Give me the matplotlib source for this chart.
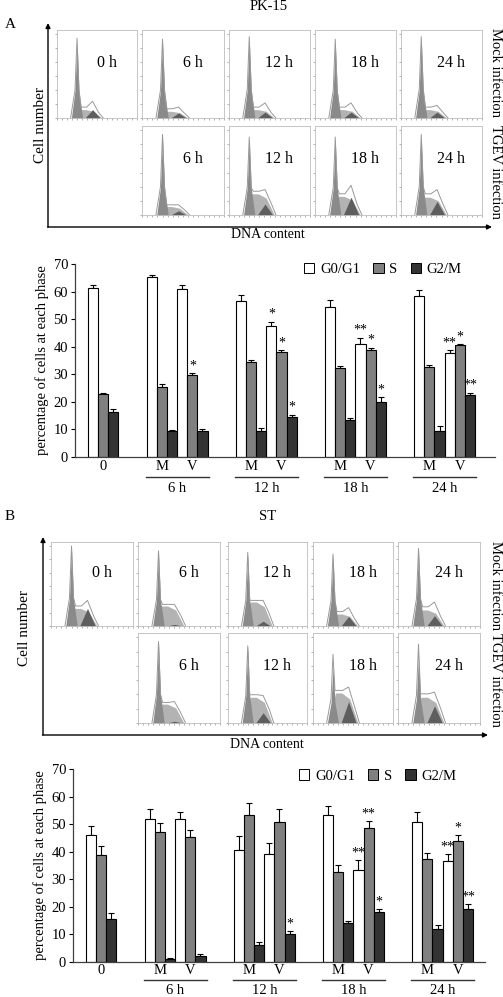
import numpy as np
import matplotlib
matplotlib.use("Agg")
import matplotlib.pyplot as plt
from matplotlib.patches import Patch

plt.rcParams['font.family'] = ['Liberation Serif', 'DejaVu Serif']

W, H = 503, 997

# ---------------- bar chart data ----------------
# order: 0, 6h M, 6h V, 12h M, 12h V, 18h M, 18h V, 24h M, 24h V
group_labels = ['0', '6 h', '12 h', '18 h', '24 h']
phase_labels = ['G0/G1', 'S', 'G2/M']

pk_g1 = [61.3, 65.2, 61.0, 56.5, 47.5, 54.2, 41.0, 58.4, 37.5]
pk_g1_err = [1.2, 0.9, 1.2, 2.2, 1.6, 2.9, 2.2, 2.2, 1.2]
pk_s = [22.6, 25.5, 29.7, 34.3, 38.2, 32.4, 38.7, 32.7, 40.4]
pk_s_err = [0.7, 1.0, 0.6, 0.7, 0.5, 0.5, 0.9, 0.5, 0.5]
pk_g2 = [16.2, 9.5, 9.3, 9.5, 14.6, 13.2, 20.0, 9.3, 22.3]
pk_g2_err = [1.0, 0.3, 0.6, 1.0, 0.7, 0.7, 1.7, 1.7, 0.9]
pk_g1_sig = ['', '', '', '', '*', '', '**', '', '**']
pk_s_sig = ['', '', '*', '', '*', '', '*', '', '*']
pk_g2_sig = ['', '', '', '', '*', '', '*', '', '**']

st_g1 = [46.0, 52.0, 52.0, 40.5, 39.2, 53.2, 33.5, 51.0, 36.7]
st_g1_err = [3.2, 3.5, 2.6, 5.4, 4.1, 3.5, 3.5, 3.6, 2.5]
st_s = [38.8, 47.2, 45.5, 53.2, 51.0, 32.5, 48.5, 37.2, 43.8]
st_s_err = [3.2, 3.1, 2.3, 4.5, 4.5, 2.6, 2.6, 2.3, 2.3]
st_g2 = [15.5, 1.0, 2.1, 6.2, 10.0, 14.2, 18.0, 12.0, 19.3]
st_g2_err = [2.2, 0.3, 0.7, 0.8, 1.0, 0.6, 1.0, 1.2, 1.6]
st_g1_sig = ['', '', '', '', '', '', '**', '', '**']
st_s_sig = ['', '', '', '', '', '', '**', '', '*']
st_g2_sig = ['', '', '', '', '*', '', '*', '', '**']

# ---------------- flow histogram data (fraction of panel height) ----------------
hist_labels = ['0 h', '6 h', '12 h', '18 h', '24 h']

pk_mock_g1 = [0.93, 0.92, 0.95, 0.92, 0.95]
pk_mock_s = [0.10, 0.08, 0.10, 0.10, 0.10]
pk_mock_g2 = [0.10, 0.06, 0.07, 0.07, 0.07]
pk_mock_s_out = [0.13, 0.11, 0.13, 0.13, 0.13]
pk_mock_g2_out = [0.20, 0.13, 0.18, 0.18, 0.15]

pk_tgev_g1 = [0.93, 0.90, 0.90, 0.93]
pk_tgev_s = [0.10, 0.25, 0.22, 0.21]
pk_tgev_g2 = [0.05, 0.13, 0.21, 0.16]
pk_tgev_s_out = [0.12, 0.28, 0.25, 0.25]
pk_tgev_g2_out = [0.12, 0.30, 0.35, 0.30]

st_mock_g1 = [0.98, 0.92, 0.90, 0.88, 0.95]
st_mock_s = [0.22, 0.25, 0.30, 0.15, 0.20]
st_mock_g2 = [0.22, 0.02, 0.06, 0.12, 0.13]
st_mock_s_out = [0.25, 0.27, 0.32, 0.18, 0.24]
st_mock_g2_out = [0.32, 0.27, 0.32, 0.23, 0.30]

st_tgev_g1 = [0.95, 0.90, 0.66, 0.80]
st_tgev_g1_out = [0.95, 0.90, 0.80, 0.92]
st_tgev_s = [0.22, 0.30, 0.35, 0.30]
st_tgev_g2 = [0.02, 0.12, 0.25, 0.20]
st_tgev_s_out = [0.24, 0.33, 0.38, 0.34]
st_tgev_g2_out = [0.25, 0.32, 0.42, 0.36]

# component shapes along the DNA axis (fraction of panel width)
G1_X = [0.18, 0.225, 0.25, 0.275, 0.32]
G1_K = [0, 0.35, 1, 0.35, 0]
S_X = [0.20, 0.28, 0.36, 0.46, 0.56]
S_K = [0, 1, 1, 0.8, 0]
G2_X = [0.35, 0.445, 0.54]
G2_K = [0, 1, 0]
OUT_X = [0.17, 0.225, 0.25, 0.275, 0.30, 0.37, 0.445, 0.52, 0.58]

fig = plt.figure(figsize=(W / 100, H / 100), dpi=100)


def px_axes(x0, y0, x1, y1):
    return fig.add_axes([x0 / W, 1 - y1 / H, (x1 - x0) / W, (y1 - y0) / H])


def px_text(x, y, s, **kw):
    fig.text(x / W, 1 - y / H, s, ha='center', va='center', **kw)


def draw_hist(ax, g1, s, g2, s_out, g2_out, g1_out, label):
    ax.fill_between(S_X, 0, np.array(S_K) * s, color='#b3b3b3', lw=0)
    ax.fill_between(G1_X, 0, np.array(G1_K) * g1, color='#8a8a8a', lw=0)
    ax.fill_between(G2_X, 0, np.array(G2_K) * g2, color='#5e5e5e', lw=0)
    out = [0, 0.35 * g1_out, g1_out, max(0.35 * g1_out, s_out), s_out, s_out,
           g2_out, s_out * 0.5, 0]
    ax.plot(OUT_X, out, color='#999999', lw=0.7)
    ax.set_xlim(0, 1)
    ax.set_ylim(0, 1.05)
    ax.set_xticks(np.linspace(0, 1, 17))
    ax.set_yticks(np.linspace(0, 1, 7))
    ax.tick_params(length=1.5, width=0.5, color='#909090',
                   labelbottom=False, labelleft=False)
    for sp in ax.spines.values():
        sp.set_color('#bdbdbd')
        sp.set_linewidth(0.6)
    ax.text(0.62, 0.63, label, transform=ax.transAxes, ha='center',
            va='center', fontsize=11.5)


def hist_block(xs, row1, row2, mock, tgev, arrow, title, letter,
               title_xy, letter_xy, cell_xy, dna_xy, mock_y, tgev_y):
    for i in range(5):
        ax = px_axes(xs[i][0], row1[0], xs[i][1], row1[1])
        draw_hist(ax, mock[0][i], mock[1][i], mock[2][i], mock[3][i],
                  mock[4][i], mock[0][i] + 0.02, hist_labels[i])
    for i in range(4):
        ax = px_axes(xs[i + 1][0], row2[0], xs[i + 1][1], row2[1])
        draw_hist(ax, tgev[0][i], tgev[1][i], tgev[2][i], tgev[3][i],
                  tgev[4][i], tgev[5][i], hist_labels[i + 1])
    ax_bg.annotate('', xy=(arrow[0], arrow[1]), xytext=(arrow[0], arrow[2]),
                   arrowprops=dict(arrowstyle='-|>', color='black', lw=1,
                                   mutation_scale=7, shrinkA=0, shrinkB=0))
    ax_bg.annotate('', xy=(arrow[3], arrow[2]), xytext=(arrow[0] - 0.5, arrow[2]),
                   arrowprops=dict(arrowstyle='-|>', color='black', lw=1,
                                   mutation_scale=7, shrinkA=0, shrinkB=0))
    px_text(*title_xy, title, fontsize=10.5)
    px_text(*letter_xy, letter, fontsize=11)
    px_text(*cell_xy, 'Cell number', fontsize=11, rotation=90)
    px_text(*dna_xy, 'DNA content', fontsize=10)
    px_text(496, mock_y, 'Mock infection', fontsize=10.5, rotation=-90)
    px_text(496, tgev_y, 'TGEV infection', fontsize=10.5, rotation=-90)


GAP = 2.8
group_start = [0, 3 + GAP, 9 + 2 * GAP, 15 + 3 * GAP, 21 + 4 * GAP]
cond_left = [0]
for g in range(1, 5):
    cond_left += [group_start[g], group_start[g] + 3]


def draw_bars(box, p0, vals, errs, sigs, dy, leg_anchor):
    x0, y0, x1, y1 = box
    ax = px_axes(x0, y0, x1, y1)
    ppu = 10.13
    ax_h = y1 - y0
    colors = ['white', '#808080', '#333333']
    left = np.array(cond_left, dtype=float)
    for p in range(3):
        xs = left + p + 0.5
        ax.bar(xs, vals[p], width=1, color=colors[p], edgecolor='black',
               linewidth=0.8, zorder=2)
        ax.errorbar(xs, vals[p], yerr=[np.zeros(9), errs[p]], fmt='none',
                    ecolor='black', elinewidth=0.8, capsize=2.3,
                    capthick=0.8, zorder=1)
        for x, v, e, s in zip(xs, vals[p], errs[p], sigs[p]):
            if s:
                ax.text(x, v + e + 0.3, s, ha='center', va='bottom',
                        fontsize=10)
    ax.set_xlim((x0 - p0) / ppu, (x1 - p0) / ppu)
    ax.set_ylim(0, 70)
    ax.set_yticks(range(0, 71, 10))
    ax.set_xticks([])
    ax.tick_params(axis='y', length=3, width=0.8, pad=2, labelsize=10.5)
    for sp in ['top', 'right']:
        ax.spines[sp].set_visible(False)
    for sp in ['left', 'bottom']:
        ax.spines[sp].set_color('#404040')
        ax.spines[sp].set_linewidth(0.9)
    ax.set_ylabel('percentage of cells at each phase', fontsize=10.5,
                  labelpad=3)
    tr = ax.get_xaxis_transform()
    ax.text(1.5, -dy[0] / ax_h, group_labels[0], transform=tr, ha='center',
            va='center', fontsize=10.5)
    for g in range(1, 5):
        st = group_start[g]
        ax.text(st + 1.5, -dy[0] / ax_h, 'M', transform=tr, ha='center',
                va='center', fontsize=10.5)
        ax.text(st + 4.5, -dy[0] / ax_h, 'V', transform=tr, ha='center',
                va='center', fontsize=10.5)
        ax.plot([st - 0.1, st + 6.1], [-dy[1] / ax_h] * 2, transform=tr,
                color='#333333', lw=1, clip_on=False)
        ax.text(st + 3, -dy[2] / ax_h, group_labels[g], transform=tr,
                ha='center', va='center', fontsize=10.5)
    handles = [Patch(facecolor=c, edgecolor='black', linewidth=0.7)
               for c in colors]
    ax.legend(handles, phase_labels, loc='upper right',
              bbox_to_anchor=leg_anchor, ncol=3, frameon=False,
              fontsize=10.5, handlelength=0.7, handleheight=0.7,
              handletextpad=0.4, columnspacing=0.9, borderaxespad=0)
    return ax


ax_bg = fig.add_axes([0, 0, 1, 1])
ax_bg.set_xlim(0, W)
ax_bg.set_ylim(H, 0)
ax_bg.axis('off')

# ---- panel A ----
hist_block(xs=[(57, 137), (142, 224), (229, 310), (315, 396), (401, 482)],
           row1=(30, 118), row2=(126, 215),
           mock=[pk_mock_g1, pk_mock_s, pk_mock_g2, pk_mock_s_out, pk_mock_g2_out],
           tgev=[pk_tgev_g1, pk_tgev_s, pk_tgev_g2, pk_tgev_s_out, pk_tgev_g2_out,
                 [v + 0.02 for v in pk_tgev_g1]],
           arrow=(48, 23, 227, 492), title='PK-15', letter='A',
           title_xy=(269, 7), letter_xy=(10, 25), cell_xy=(40, 125),
           dna_xy=(268, 235), mock_y=72, tgev_y=172)

draw_bars((75, 264, 495, 456.7), 88,
          [pk_g1, pk_s, pk_g2], [pk_g1_err, pk_s_err, pk_g2_err],
          [pk_g1_sig, pk_s_sig, pk_g2_sig], dy=(10.3, 20, 31.3),
          leg_anchor=(0.935, 1.035))

# ---- panel B ----
hist_block(xs=[(51, 133), (138, 220), (228, 307), (313, 393), (398, 480)],
           row1=(542, 626), row2=(633, 723),
           mock=[st_mock_g1, st_mock_s, st_mock_g2, st_mock_s_out, st_mock_g2_out],
           tgev=[st_tgev_g1, st_tgev_s, st_tgev_g2, st_tgev_s_out, st_tgev_g2_out,
                 st_tgev_g1_out],
           arrow=(43, 537, 735, 488), title='ST', letter='B',
           title_xy=(268, 517), letter_xy=(10, 517), cell_xy=(25, 628),
           dna_xy=(267, 745), mock_y=585, tgev_y=680)

draw_bars((73, 769.3, 485, 961.7), 86,
          [st_g1, st_s, st_g2], [st_g1_err, st_s_err, st_g2_err],
          [st_g1_sig, st_s_sig, st_g2_sig], dy=(8.3, 18.3, 29),
          leg_anchor=(0.945, 1.03))

fig.savefig('out.png', dpi=100)
